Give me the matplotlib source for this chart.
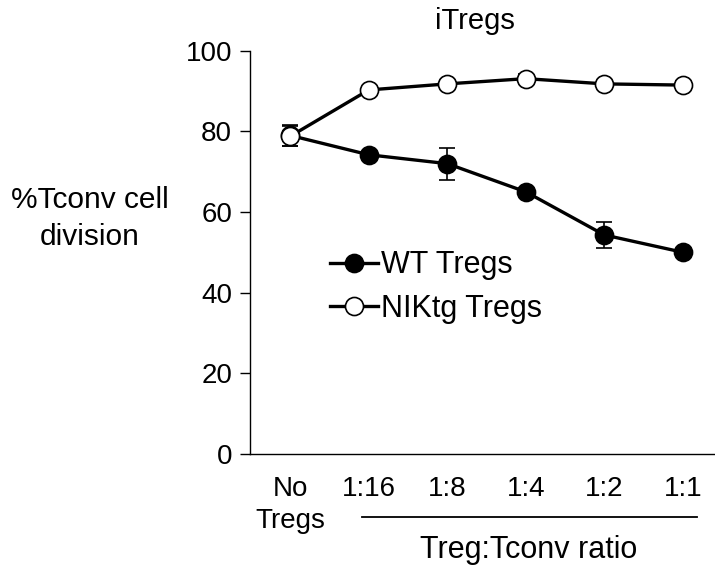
import matplotlib
matplotlib.use("Agg")
import matplotlib.pyplot as plt

plt.rcParams['font.family'] = ['Liberation Sans', 'DejaVu Sans']

# data
labels = ['No\nTregs', '1:16', '1:8', '1:4', '1:2', '1:1']
wt = [79, 74.2, 72, 65, 54.3, 50]
wt_err = [2.5, 0.8, 4, 1, 3.2, 0.5]
nik = [78.8, 90.3, 91.8, 93.1, 91.8, 91.5]
nik_err = [2.5, 0.8, 0.8, 1.2, 0.8, 1.0]

fig = plt.figure(figsize=(7.15, 5.65), dpi=100)
ax = fig.add_axes([0.35, 0.197, 0.65, 0.713])

x = list(range(len(labels)))
ax.errorbar(x, wt, yerr=wt_err, color='black', lw=2.4, marker='o', ms=13,
            mfc='black', mec='black', mew=1.2, capsize=6, elinewidth=1.2,
            capthick=1.2, label='WT Tregs', zorder=3)
ax.errorbar(x, nik, yerr=nik_err, color='black', lw=2.4, marker='o', ms=13,
            mfc='white', mec='black', mew=1.2, capsize=6, elinewidth=1.2,
            capthick=1.2, label='NIKtg Tregs', zorder=4)

ax.set_xlim(-0.51, 5.41)
ax.set_ylim(0, 100)
ax.set_yticks([0, 20, 40, 60, 80, 100])
ax.set_xticks(x)
ax.set_xticklabels(labels, va='top', linespacing=1.3)
ax.tick_params(axis='x', length=0, pad=16, labelsize=20)
ax.tick_params(axis='y', length=7, width=1, direction='out', labelsize=20, pad=6)
for s in ['top', 'right']:
    ax.spines[s].set_visible(False)
for s in ['left', 'bottom']:
    ax.spines[s].set_linewidth(1)

fig.text(0.664, 0.963, 'iTregs', ha='center', va='center', fontsize=21)
fig.text(0.126, 0.613, '%Tconv cell\ndivision', ha='center', va='center',
         fontsize=21.5, linespacing=1.4)

h, l = ax.get_legend_handles_labels()
ax.legend([hh[0] for hh in h], l, loc='upper left', bbox_to_anchor=(0.172, 0.505),
          frameon=False, fontsize=22, handlelength=1.57, handletextpad=0.1,
          labelspacing=0.45, borderpad=0, borderaxespad=0, numpoints=1)

# bracket line under ratio labels
fig.add_artist(plt.Line2D([0.506, 0.975], [0.085, 0.085], color='black', lw=1.3))
fig.text(0.739, 0.027, 'Treg:Tconv ratio', ha='center', va='center', fontsize=22)

fig.savefig('out.png', dpi=100)
